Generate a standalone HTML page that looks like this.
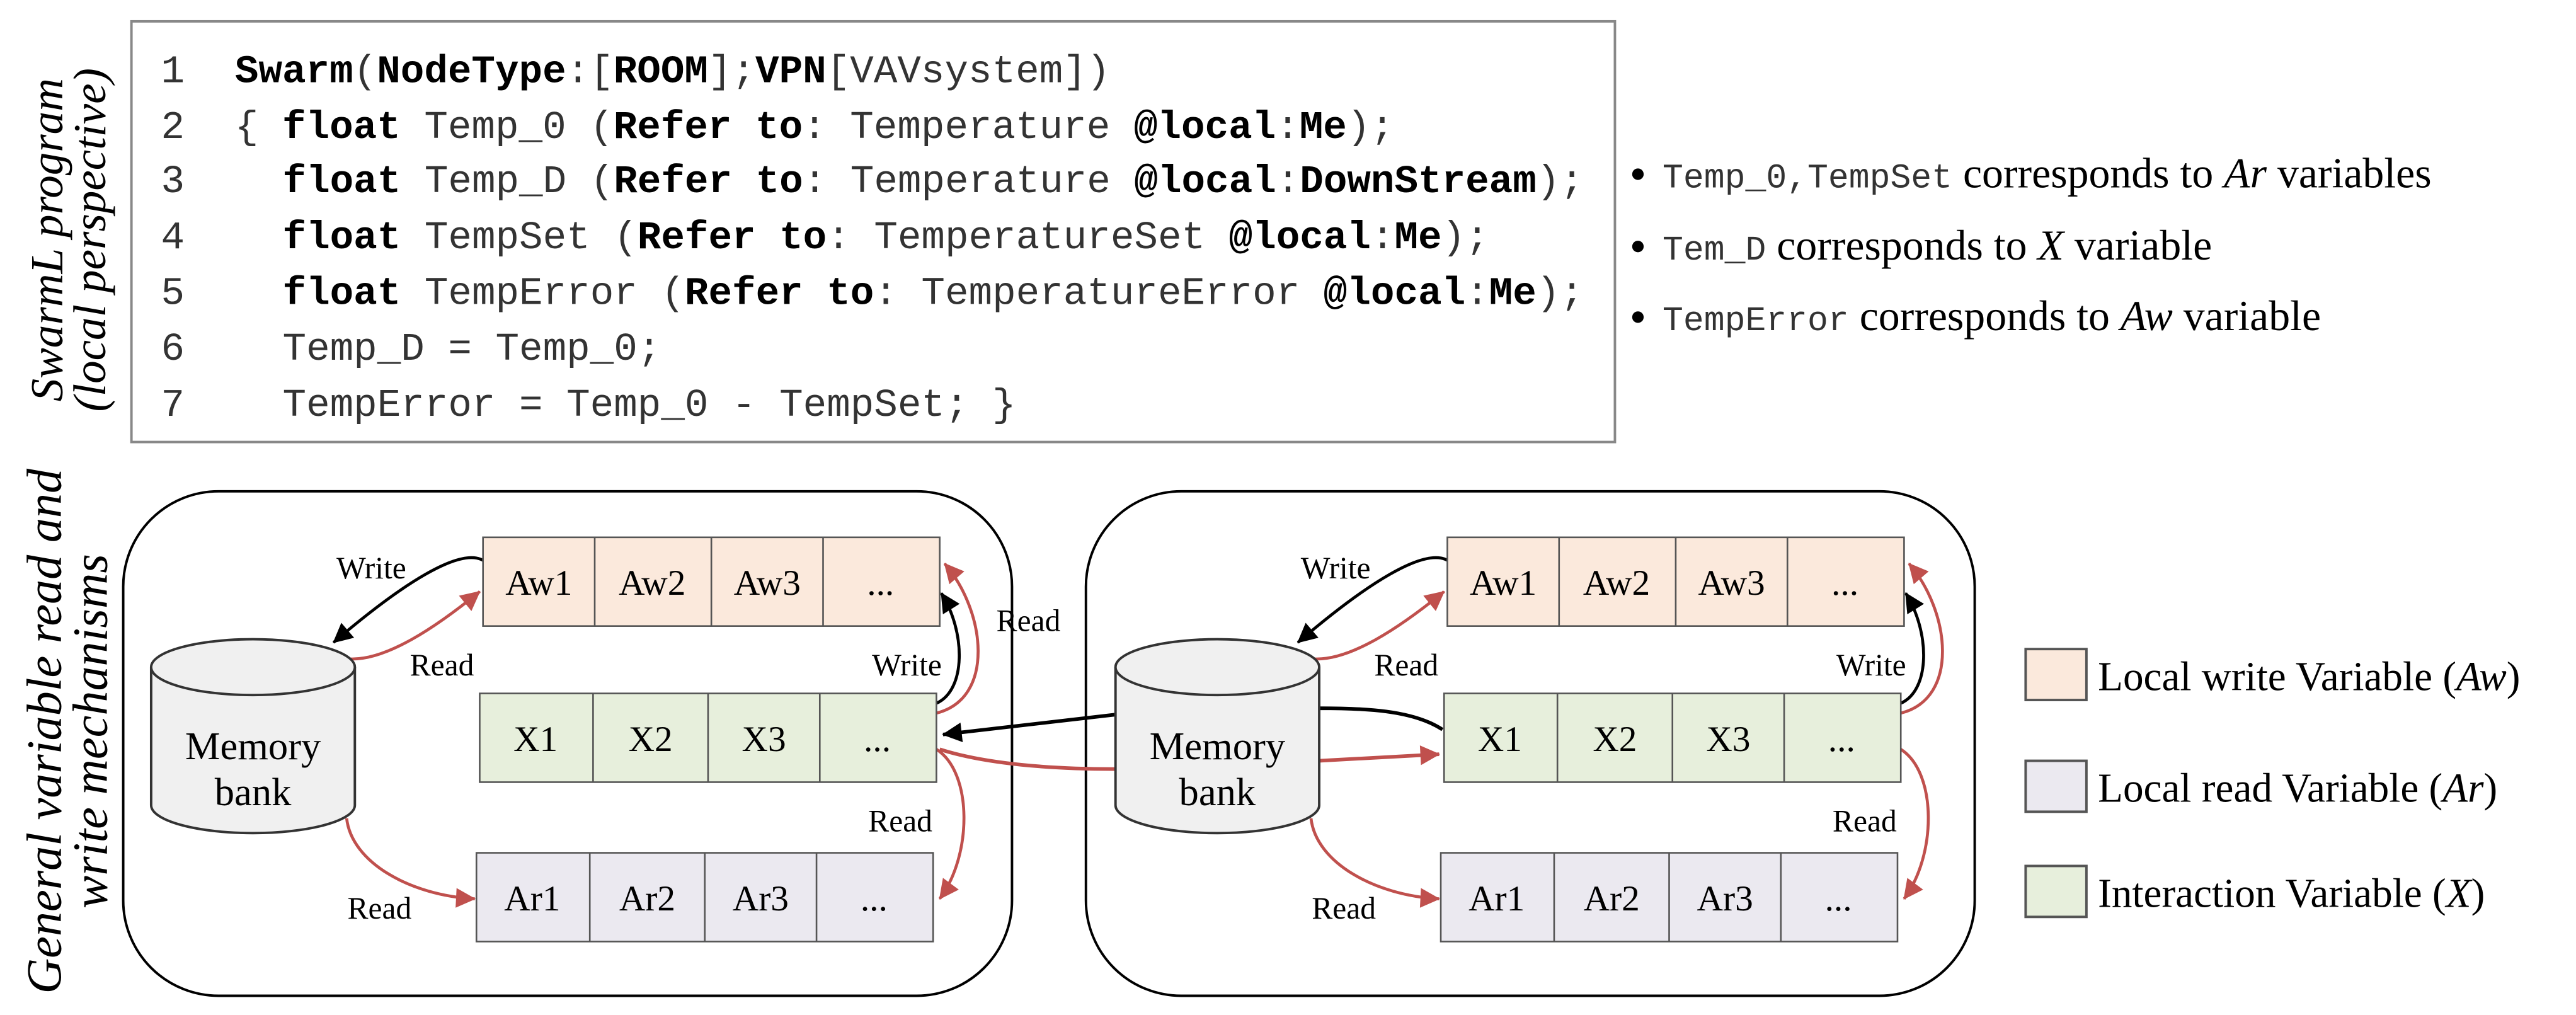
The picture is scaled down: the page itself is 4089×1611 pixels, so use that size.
<!DOCTYPE html>
<html><head><meta charset="utf-8"><style>
html,body{margin:0;padding:0;background:#fff;}
svg{display:block;}
.m{font-family:"Liberation Mono",monospace;font-size:24px;fill:#333;}
.b{font-weight:bold;fill:#000;}
.s{font-family:"Liberation Serif",serif;}
</style></head><body>
<svg width="4089" height="1611" viewBox="0 0 1568 617.7" preserveAspectRatio="none" xmlns="http://www.w3.org/2000/svg">
<defs>
<marker id="ak" viewBox="0 0 10 10" refX="9" refY="5" markerWidth="6" markerHeight="6" orient="auto" markerUnits="userSpaceOnUse" style="overflow:visible"><path d="M0,0 L10,5 L0,10 z" fill="#000" transform="scale(2) translate(-5,-2.5)"/></marker>
<marker id="ar" viewBox="0 0 10 10" refX="9" refY="5" markerWidth="6" markerHeight="6" orient="auto" markerUnits="userSpaceOnUse" style="overflow:visible"><path d="M0,0 L10,5 L0,10 z" fill="#c0504d" transform="scale(2) translate(-5,-2.5)"/></marker>
</defs>
<rect x="80" y="13" width="903" height="256" fill="#fff" stroke="#888" stroke-width="1.5"/>
<g class="m">
<text x="98" y="50">1</text><text x="98" y="84">2</text><text x="98" y="117">3</text><text x="98" y="151">4</text><text x="98" y="185">5</text><text x="98" y="219">6</text><text x="98" y="253">7</text>
<text x="143" y="50"><tspan class="b">Swarm</tspan>(<tspan class="b">NodeType</tspan>:[<tspan class="b">ROOM</tspan>];<tspan class="b">VPN</tspan>[VAVsystem])</text>
<text x="143" y="84">{ <tspan class="b">float</tspan> Temp_0 (<tspan class="b">Refer to</tspan>: Temperature <tspan class="b">@local</tspan>:<tspan class="b">Me</tspan>);</text>
<text x="172" y="117"><tspan class="b">float</tspan> Temp_D (<tspan class="b">Refer to</tspan>: Temperature <tspan class="b">@local</tspan>:<tspan class="b">DownStream</tspan>);</text>
<text x="172" y="151"><tspan class="b">float</tspan> TempSet (<tspan class="b">Refer to</tspan>: TemperatureSet <tspan class="b">@local</tspan>:<tspan class="b">Me</tspan>);</text>
<text x="172" y="185"><tspan class="b">float</tspan> TempError (<tspan class="b">Refer to</tspan>: TemperatureError <tspan class="b">@local</tspan>:<tspan class="b">Me</tspan>);</text>
<text x="172" y="219">Temp_D = Temp_0;</text>
<text x="172" y="253">TempError = Temp_0 - TempSet; }</text>
</g>
<g class="s" font-style="italic" font-size="28" text-anchor="middle">
<text transform="translate(38,146) rotate(-90)">SwarmL program</text>
<text transform="translate(64,146) rotate(-90)">(local perspective)</text>
<text transform="translate(37,445) rotate(-90)" font-size="30">General variable read and</text>
<text transform="translate(65,445) rotate(-90)" font-size="30">write mechanisms</text>
</g>
<g class="s" font-size="26">
<circle cx="997" cy="106" r="3.5"/><circle cx="997" cy="150" r="3.5"/><circle cx="997" cy="193" r="3.5"/>
<text x="1012" y="114"><tspan font-family="Liberation Mono" font-size="21" fill="#333">Temp_0,TempSet</tspan> corresponds to <tspan font-style="italic">Ar</tspan> variables</text>
<text x="1012" y="158"><tspan font-family="Liberation Mono" font-size="21" fill="#333">Tem_D</tspan> corresponds to <tspan font-style="italic">X</tspan> variable</text>
<text x="1012" y="201"><tspan font-family="Liberation Mono" font-size="21" fill="#333">TempError</tspan> corresponds to <tspan font-style="italic">Aw</tspan> variable</text>
</g>
<rect x="75" y="299" width="541" height="307" rx="58" ry="58" fill="none" stroke="#000" stroke-width="1.5"/>
<rect x="661" y="299" width="541" height="307" rx="58" ry="58" fill="none" stroke="#000" stroke-width="1.5"/>
<path d="M878,444 C860,432 830,431 803,431 L678,435 L574,447" fill="none" stroke="#000" stroke-width="2.2" marker-end="url(#ak)"/>
<path d="M572,456 C600,465 640,468 678,468 L803,463 L876,459" fill="none" stroke="#c0504d" stroke-width="2.2" marker-end="url(#ar)"/>
<g id="unit">
<path d="M294,341 C280,333 245,355 203,391" fill="none" stroke="#000" stroke-width="1.8" marker-end="url(#ak)"/>
<path d="M213,401 C235,402 265,382 292,360" fill="none" stroke="#c0504d" stroke-width="1.8" marker-end="url(#ar)"/>
<path d="M570,428 C588,420 588,385 573,361" fill="none" stroke="#000" stroke-width="1.8" marker-end="url(#ak)"/>
<path d="M570,434 C606,425 600,372 575,343" fill="none" stroke="#c0504d" stroke-width="1.8" marker-end="url(#ar)"/>
<path d="M570,456 C592,470 592,520 572,547" fill="none" stroke="#c0504d" stroke-width="1.8" marker-end="url(#ar)"/>
<path d="M211,498 C214,525 250,545 289,547" fill="none" stroke="#c0504d" stroke-width="1.8" marker-end="url(#ar)"/>
<path d="M92,406 L92,490 A62,17 0 0 0 216,490 L216,406" fill="#f0f0f0" stroke="#333" stroke-width="1.5"/>
<ellipse cx="154" cy="406" rx="62" ry="17" fill="#f0f0f0" stroke="#333" stroke-width="1.5"/>
<g class="s" font-size="24" text-anchor="middle"><text x="154" y="462">Memory</text><text x="154" y="490">bank</text></g>
<g stroke="#555" stroke-width="1">
<rect x="294" y="327" width="278" height="54" fill="#fbe9dc"/>
<line x1="362" y1="327" x2="362" y2="381"/><line x1="433" y1="327" x2="433" y2="381"/><line x1="501" y1="327" x2="501" y2="381"/>
<rect x="292" y="422" width="278" height="54" fill="#e7efdc"/>
<line x1="361" y1="422" x2="361" y2="476"/><line x1="431" y1="422" x2="431" y2="476"/><line x1="499" y1="422" x2="499" y2="476"/>
<rect x="290" y="519" width="278" height="54" fill="#ebe9f0"/>
<line x1="359" y1="519" x2="359" y2="573"/><line x1="429" y1="519" x2="429" y2="573"/><line x1="497" y1="519" x2="497" y2="573"/>
</g>
<g class="s" font-size="22" text-anchor="middle">
<text x="328" y="362">Aw1</text><text x="397" y="362">Aw2</text><text x="467" y="362">Aw3</text><text x="536" y="362">...</text>
<text x="326" y="457">X1</text><text x="396" y="457">X2</text><text x="465" y="457">X3</text><text x="534" y="457">...</text>
<text x="324" y="554">Ar1</text><text x="394" y="554">Ar2</text><text x="463" y="554">Ar3</text><text x="532" y="554">...</text>
</g>
<g class="s" font-size="19" text-anchor="middle">
<text x="226" y="352">Write</text><text x="269" y="411">Read</text><text x="552" y="411">Write</text><text x="548" y="506">Read</text><text x="231" y="559">Read</text>
</g>
</g>
<use href="#unit" transform="translate(587,0)"/>
<text class="s" font-size="19" x="626" y="384" text-anchor="middle">Read</text>
<g stroke="#555" stroke-width="1.5">
<rect x="1233" y="395" width="37" height="31" fill="#fbe9dc"/>
<rect x="1233" y="463" width="37" height="31" fill="#ebe9f0"/>
<rect x="1233" y="527" width="37" height="31" fill="#e7efdc"/>
</g>
<g class="s" font-size="25">
<text x="1277" y="420">Local write Variable (<tspan font-style="italic">Aw</tspan>)</text>
<text x="1277" y="488">Local read Variable (<tspan font-style="italic">Ar</tspan>)</text>
<text x="1277" y="552">Interaction Variable (<tspan font-style="italic">X</tspan>)</text>
</g>
</svg>
</body></html>
